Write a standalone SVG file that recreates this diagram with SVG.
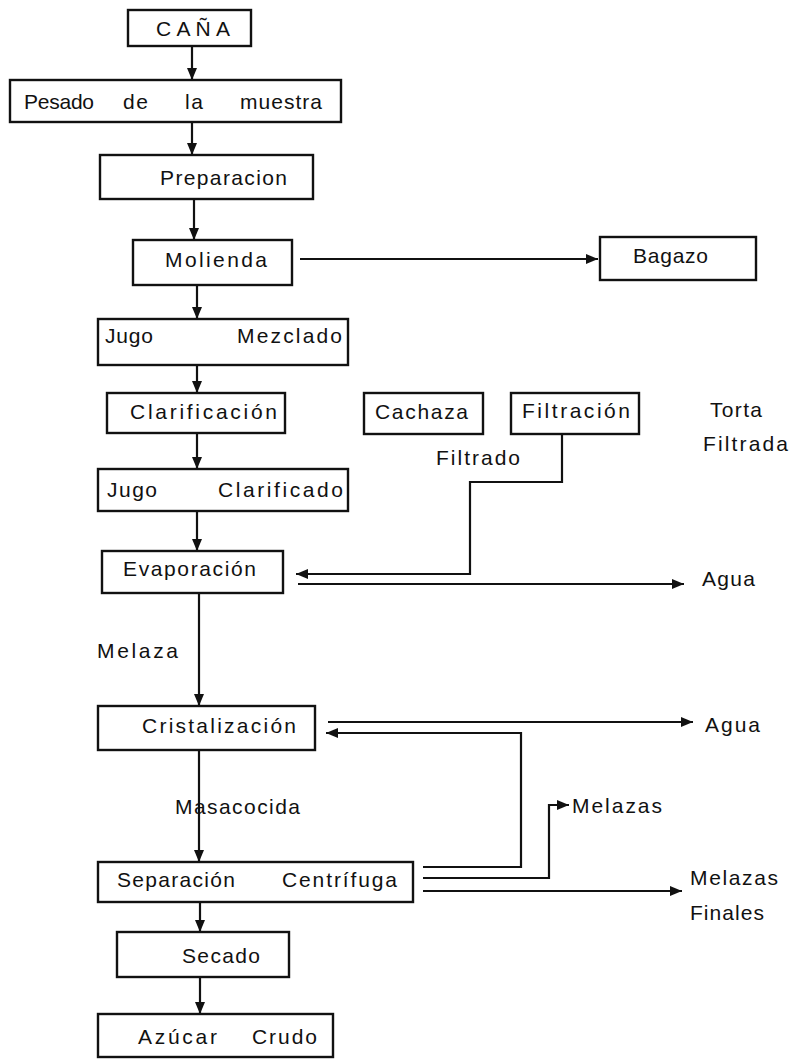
<svg xmlns="http://www.w3.org/2000/svg" width="794" height="1060" viewBox="0 0 794 1060">
<defs>
<marker id="ah" markerUnits="userSpaceOnUse" markerWidth="14" markerHeight="12" refX="12" refY="6" orient="auto">
<path d="M0,1 L12,6 L0,11 z" fill="#111"/>
</marker>
<style>
.box{fill:#fff;stroke:#111;stroke-width:2.4}
.t{font-family:"Liberation Sans",Arial,sans-serif;font-size:21px;fill:#111}
.c{fill:none;stroke:#111;stroke-width:2.2;marker-end:url(#ah)}
</style>
</defs>
<rect width="794" height="1060" fill="#fff"/>

<g id="connectors">
<path class="c" d="M192,46 V80"/>
<path class="c" d="M192,122 V155"/>
<path class="c" d="M194,199 V240"/>
<path class="c" d="M197,285 V319"/>
<path class="c" d="M300,259 H598"/>
<path class="c" d="M197,365 V393"/>
<path class="c" d="M197,433 V469"/>
<path class="c" d="M197,511 V551"/>
<path class="c" d="M562,434 V482 H470 V574 H296"/>
<path class="c" d="M298,584 H684"/>
<path class="c" d="M199,593 V706"/>
<path class="c" d="M328,722 H693"/>
<path class="c" d="M423,867 H521 V733 H326"/>
<path class="c" d="M423,878 H549 V805 H569"/>
<path class="c" d="M423,891 H682"/>
<path class="c" d="M199,750 V862"/>
<path class="c" d="M200,902 V932"/>
<path class="c" d="M200,977 V1014"/>
</g>

<g id="cana">
<rect class="box" x="128" y="10" width="123" height="36"/>
<text class="t" x="156" y="36" textLength="74" lengthAdjust="spacing">CAÑA</text>
</g>
<g id="pesado">
<rect class="box" x="10" y="80" width="331" height="42"/>
<text class="t" x="24" y="109" textLength="70" lengthAdjust="spacing">Pesado</text>
<text class="t" x="123" y="109" textLength="25" lengthAdjust="spacing">de</text>
<text class="t" x="185" y="109" textLength="18" lengthAdjust="spacing">la</text>
<text class="t" x="240" y="109" textLength="82" lengthAdjust="spacing">muestra</text>
</g>
<g id="preparacion">
<rect class="box" x="100" y="155" width="213" height="44"/>
<text class="t" x="160" y="185" textLength="127" lengthAdjust="spacing">Preparacion</text>
</g>
<g id="molienda">
<rect class="box" x="133" y="240" width="159" height="45"/>
<text class="t" x="165" y="267" textLength="102" lengthAdjust="spacing">Molienda</text>
</g>
<g id="bagazo">
<rect class="box" x="600" y="237" width="156" height="43"/>
<text class="t" x="633" y="263" textLength="75" lengthAdjust="spacing">Bagazo</text>
</g>
<g id="jugo-mezclado">
<rect class="box" x="98" y="319" width="250" height="46"/>
<text class="t" x="105" y="343" textLength="48" lengthAdjust="spacing">Jugo</text>
<text class="t" x="237" y="343" textLength="105" lengthAdjust="spacing">Mezclado</text>
</g>
<g id="clarificacion">
<rect class="box" x="107" y="393" width="178" height="40"/>
<text class="t" x="130" y="419" textLength="147" lengthAdjust="spacing">Clarificación</text>
</g>
<g id="cachaza">
<rect class="box" x="364" y="393" width="119" height="41"/>
<text class="t" x="375" y="419" textLength="93" lengthAdjust="spacing">Cachaza</text>
</g>
<g id="filtracion">
<rect class="box" x="511" y="393" width="128" height="41"/>
<text class="t" x="522" y="418" textLength="108" lengthAdjust="spacing">Filtración</text>
</g>
<g id="torta-filtrada">
<text class="t" x="710" y="417" textLength="52" lengthAdjust="spacing">Torta</text>
<text class="t" x="703" y="451" textLength="85" lengthAdjust="spacing">Filtrada</text>
</g>
<g id="filtrado-label">
<text class="t" x="436" y="465" textLength="84" lengthAdjust="spacing">Filtrado</text>
</g>
<g id="jugo-clarificado">
<rect class="box" x="98" y="469" width="250" height="42"/>
<text class="t" x="107" y="497" textLength="50" lengthAdjust="spacing">Jugo</text>
<text class="t" x="218" y="497" textLength="125" lengthAdjust="spacing">Clarificado</text>
</g>
<g id="evaporacion">
<rect class="box" x="102" y="551" width="181" height="42"/>
<text class="t" x="123" y="576" textLength="133" lengthAdjust="spacing">Evaporación</text>
</g>
<g id="agua1">
<text class="t" x="702" y="586" textLength="53" lengthAdjust="spacing">Agua</text>
</g>
<g id="melaza-label">
<text class="t" x="97" y="658" textLength="81" lengthAdjust="spacing">Melaza</text>
</g>
<g id="cristalizacion">
<rect class="box" x="98" y="706" width="217" height="44"/>
<text class="t" x="142" y="733" textLength="154" lengthAdjust="spacing">Cristalización</text>
</g>
<g id="agua2">
<text class="t" x="705" y="732" textLength="55" lengthAdjust="spacing">Agua</text>
</g>
<g id="masacocida-label">
<text class="t" x="175" y="814" textLength="125" lengthAdjust="spacing">Masacocida</text>
</g>
<g id="melazas">
<text class="t" x="572" y="813" textLength="90" lengthAdjust="spacing">Melazas</text>
</g>
<g id="separacion">
<rect class="box" x="98" y="862" width="315" height="40"/>
<text class="t" x="117" y="887" textLength="118" lengthAdjust="spacing">Separación</text>
<text class="t" x="282" y="887" textLength="115" lengthAdjust="spacing">Centrífuga</text>
</g>
<g id="melazas-finales">
<text class="t" x="690" y="885" textLength="88" lengthAdjust="spacing">Melazas</text>
<text class="t" x="690" y="920" textLength="74" lengthAdjust="spacing">Finales</text>
</g>
<g id="secado">
<rect class="box" x="117" y="932" width="172" height="45"/>
<text class="t" x="182" y="963" textLength="78" lengthAdjust="spacing">Secado</text>
</g>
<g id="azucar">
<rect class="box" x="98" y="1014" width="235" height="43"/>
<text class="t" x="138" y="1044" textLength="79" lengthAdjust="spacing">Azúcar</text>
<text class="t" x="252" y="1044" textLength="65" lengthAdjust="spacing">Crudo</text>
</g>
</svg>
